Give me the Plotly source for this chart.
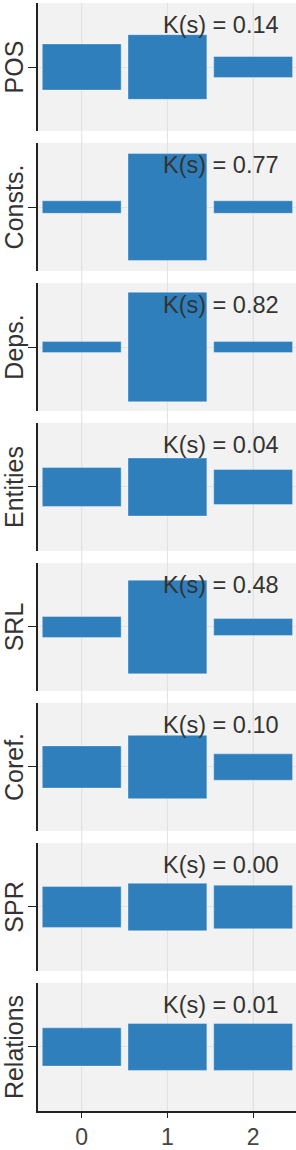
import plotly.graph_objects as go
from plotly.subplots import make_subplots

tasks = ["POS", "Consts.", "Deps.", "Entities", "SRL", "Coref.", "SPR", "Relations"]
k_scores = ["0.14", "0.77", "0.82", "0.04", "0.48", "0.10", "0.00", "0.01"]
positions = [0, 1, 2]
pos_vals = [0.35, 0.49, 0.16]
consts_vals = [0.095, 0.81, 0.095]
deps_vals = [0.085, 0.83, 0.085]
entities_vals = [0.295, 0.44, 0.265]
srl_vals = [0.16, 0.71, 0.13]
coref_vals = [0.32, 0.48, 0.20]
spr_vals = [0.31, 0.36, 0.33]
relations_vals = [0.29, 0.355, 0.355]
all_vals = [pos_vals, consts_vals, deps_vals, entities_vals, srl_vals,
            coref_vals, spr_vals, relations_vals]

n = len(tasks)
fig = make_subplots(rows=n, cols=1, shared_xaxes=True, vertical_spacing=0.0108)

BAR = "#2f7fbd"
GRID = "#e2e2e2"
BG = "#f2f2f2"
FONT = "Liberation Sans, Arial, sans-serif"

for i, (name, vals, ks) in enumerate(zip(tasks, all_vals, k_scores)):
    r = i + 1
    fig.add_trace(go.Bar(
        x=positions, y=vals, base=[-v / 2 for v in vals],
        width=0.92, marker=dict(color=BAR, line=dict(color="rgba(255,255,255,0.35)", width=1)),
        showlegend=False, hoverinfo="skip"), row=r, col=1)
    fig.update_yaxes(range=[-0.485, 0.485], tickvals=[0], ticktext=[""],
                     ticks="outside", ticklen=8, tickcolor="#222", tickwidth=1.2,
                     showgrid=True, gridcolor=GRID, gridwidth=1, zeroline=False,
                     showline=True, linecolor="#222", linewidth=1.5,
                     title=dict(text=name, font=dict(size=25, color="#333", family=FONT),
                                standoff=4),
                     fixedrange=True, row=r, col=1)
    xa = "x" if r == 1 else f"x{r}"
    ya = "y" if r == 1 else f"y{r}"
    fig.add_annotation(text=f"K(s) = {ks}", xref=f"{xa} domain", yref=f"{ya} domain",
                       x=0.94, y=0.83, xanchor="right", yanchor="middle",
                       showarrow=False, font=dict(size=23.5, color="#333", family=FONT))

for r in range(1, n + 1):
    fig.update_xaxes(range=[-0.51, 2.5], tickvals=positions,
                     showgrid=True, gridcolor=GRID, gridwidth=1, zeroline=False,
                     showticklabels=(r == n),
                     ticks="outside" if r == n else "", ticklen=5, tickcolor="#222",
                     showline=(r == n), linecolor="#222", linewidth=1.5,
                     tickfont=dict(size=23, color="#444", family=FONT),
                     fixedrange=True, row=r, col=1)

# vertical gridlines continuing through the white gaps between panels
for p in positions:
    fig.add_shape(type="line", xref="x", yref="paper", x0=p, x1=p, y0=0, y1=1,
                  line=dict(color=GRID, width=1), layer="below")

fig.update_layout(
    width=296, height=1150,
    margin=dict(l=38, r=0, t=3, b=39, autoexpand=False),
    paper_bgcolor="white", plot_bgcolor=BG,
    bargap=0.08, font=dict(family=FONT),
)

fig.write_html("out.html", config={"displayModeBar": False},
               post_script="document.body.style.margin='0';document.body.style.padding='0';")
